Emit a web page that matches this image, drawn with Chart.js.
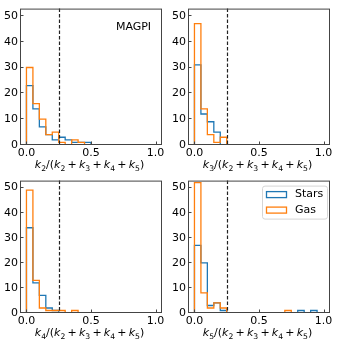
<!DOCTYPE html>
<html>
<head>
<meta charset="utf-8">
<script src="https://cdn.jsdelivr.net/npm/chart.js@4.4.0/dist/chart.umd.min.js"></script>
<style>
  html, body { margin: 0; padding: 0; background: #fff; }
  #wrap { position: relative; width: 338px; height: 344px; overflow: hidden; }
  #wrap canvas { position: absolute; }
</style>
</head>
<body>
<div id="wrap">
  <canvas id="k2" width="168" height="172" style="left:0px;top:0px"></canvas>
  <canvas id="k3" width="170" height="172" style="left:168px;top:0px"></canvas>
  <canvas id="k4" width="168" height="172" style="left:0px;top:172px"></canvas>
  <canvas id="k5" width="170" height="172" style="left:168px;top:172px"></canvas>
</div>
<script>
// bin edges of the histograms (width 0.05)
const binEdges = [0, 0.05, 0.1, 0.15, 0.2, 0.25, 0.3, 0.35, 0.4, 0.45, 0.5,
                  0.55, 0.6, 0.65, 0.7, 0.75, 0.8, 0.85, 0.9, 0.95, 1.0];
const xTicks = [0, 0.5, 1.0];
const yTicks = [0, 10, 20, 30, 40, 50];
const cutLine = 0.25;

// counts per bin
const starsK2 = [23, 14, 7, 4, 2, 3, 2, 1, 1, 1, 0, 0, 0, 0, 0, 0, 0, 0, 0, 0];
const gasK2   = [30, 16, 10, 4, 5, 1, 0, 2, 1, 0, 0, 0, 0, 0, 0, 0, 0, 0, 0, 0];
const starsK3 = [31, 12, 9, 5, 0, 0, 0, 0, 0, 0, 0, 0, 0, 0, 0, 0, 0, 0, 0, 0];
const gasK3   = [47, 14, 4, 1, 3, 0, 0, 0, 0, 0, 0, 0, 0, 0, 0, 0, 0, 0, 0, 0];
const starsK4 = [34, 12, 7, 2, 1, 0, 0, 0, 0, 0, 0, 0, 0, 0, 0, 0, 0, 0, 0, 0];
const gasK4   = [49, 13, 2, 1, 1, 1, 0, 1, 0, 0, 0, 0, 0, 0, 0, 0, 0, 0, 0, 0];
const starsK5 = [27, 20, 3, 4, 1, 0, 0, 0, 0, 0, 0, 0, 0, 0, 0, 0, 1, 0, 1, 0];
const gasK5   = [52, 8, 2, 4, 2, 0, 0, 0, 0, 0, 0, 0, 0, 0, 1, 0, 0, 0, 0, 0];

const seriesNames = ['Stars', 'Gas'];
const starsColor = '#1f77b4';
const gasColor = '#ff7f0e';
const FONT = 'DejaVu Sans';

// step outline like matplotlib histtype='step'
function stepPoints(counts) {
  const pts = [{ x: binEdges[0], y: 0 }];
  counts.forEach((c, i) => {
    pts.push({ x: binEdges[i], y: c });
    pts.push({ x: binEdges[i + 1], y: c });
  });
  pts.push({ x: binEdges[binEdges.length - 1], y: 0 });
  return pts;
}

// draws k_n/(k_2 + k_3 + k_4 + k_5) with italic k and subscripts
function drawMathLabel(ctx, n, cx, baseline) {
  const size = 11;
  const segs = [['k', 'i'], [String(n), 's'], ['/(', 'n'],
    ['k', 'i'], ['2', 's'], ['+', 'op'], ['k', 'i'], ['3', 's'], ['+', 'op'],
    ['k', 'i'], ['4', 's'], ['+', 'op'], ['k', 'i'], ['5', 's'], [')', 'n']];
  const fontFor = t => t === 'i' ? `italic ${size}px "${FONT}"`
    : t === 's' ? `${size * 0.7}px "${FONT}"` : `${size}px "${FONT}"`;
  const gap = 2.2;
  let total = 0;
  const widths = segs.map(([txt, t]) => {
    ctx.font = fontFor(t);
    const w = ctx.measureText(txt).width + (t === 'op' ? 2 * gap : 0);
    total += w;
    return w;
  });
  let x = cx - total / 2;
  ctx.fillStyle = '#000';
  ctx.textAlign = 'left';
  ctx.textBaseline = 'alphabetic';
  segs.forEach(([txt, t], i) => {
    ctx.font = fontFor(t);
    const dx = t === 'op' ? gap : 0;
    const dy = t === 's' ? 2.2 : 0;
    ctx.fillText(txt, x + dx, baseline + dy);
    x += widths[i];
  });
}

const decor = {
  id: 'decor',
  afterDatasetsDraw(chart, args, opts) {
    const { ctx, chartArea: a, scales: { x, y } } = chart;
    ctx.save();

    // dashed cut line
    const xc = Math.round(x.getPixelForValue(cutLine)) + 0.5;
    ctx.strokeStyle = '#222';
    ctx.lineWidth = 1.2;
    ctx.setLineDash([3.5, 2]);
    ctx.beginPath();
    ctx.moveTo(xc, a.top);
    ctx.lineTo(xc, a.bottom);
    ctx.stroke();
    ctx.setLineDash([]);

    // frame
    ctx.strokeStyle = '#444';
    ctx.lineWidth = 1;
    ctx.strokeRect(a.left + 0.5, a.top + 0.5, a.right - a.left - 1, a.bottom - a.top - 1);

    // inward ticks
    ctx.beginPath();
    xTicks.forEach(v => {
      const px = Math.round(x.getPixelForValue(v)) + 0.5;
      ctx.moveTo(px, a.bottom);
      ctx.lineTo(px, a.bottom - 3.5);
    });
    yTicks.forEach(v => {
      const py = Math.round(y.getPixelForValue(v)) - 0.5;
      ctx.moveTo(a.left, py);
      ctx.lineTo(a.left + 3.5, py);
    });
    ctx.stroke();

    // axis label
    drawMathLabel(ctx, opts.n, (a.left + a.right) / 2 - 1.5, a.bottom + 23.4);

    if (opts.tag) {
      ctx.font = `11px "${FONT}"`;
      ctx.fillStyle = '#000';
      ctx.textAlign = 'center';
      ctx.textBaseline = 'middle';
      ctx.fillText(opts.tag, a.left + 113.5, a.top + 18.5);
    }

    if (opts.legend) {
      const fx = a.right - 68, fy = a.top + 5, fw = 65, fh = 33;
      ctx.fillStyle = 'rgba(255,255,255,0.8)';
      ctx.strokeStyle = '#d5d5d5';
      ctx.lineWidth = 1;
      ctx.beginPath();
      ctx.roundRect(fx + 0.5, fy + 0.5, fw, fh, 2.5);
      ctx.fill();
      ctx.stroke();
      [starsColor, gasColor].forEach((c, i) => {
        const cy = fy + 9 + i * 15.5;
        ctx.strokeStyle = c;
        ctx.lineWidth = 1.3;
        ctx.strokeRect(fx + 4.5, cy - 3, 20, 6);
        ctx.fillStyle = '#000';
        ctx.font = `11px "${FONT}"`;
        ctx.textAlign = 'left';
        ctx.textBaseline = 'middle';
        ctx.fillText(seriesNames[i], fx + 33, cy);
      });
    }
    ctx.restore();
  }
};

function makeChart(id, n, stars, gas, pad, extra) {
  new Chart(document.getElementById(id), {
    type: 'line',
    data: {
      datasets: [
        { label: seriesNames[0], data: stepPoints(stars), borderColor: starsColor, order: 0 },
        { label: seriesNames[1], data: stepPoints(gas), borderColor: gasColor, order: -1 }
      ]
    },
    options: {
      responsive: false,
      animation: false,
      events: [],
      elements: {
        point: { radius: 0 },
        line: { borderWidth: 1.3, tension: 0, fill: false, borderCapStyle: 'butt', borderJoinStyle: 'miter' }
      },
      layout: { padding: { top: pad.top, right: pad.right, left: 0, bottom: 0 } },
      plugins: {
        legend: { display: false },
        tooltip: { enabled: false },
        decor: Object.assign({ n: n }, extra)
      },
      scales: {
        x: {
          type: 'linear', min: -0.05, max: 1.05,
          grid: { display: false, drawTicks: false },
          border: { display: false },
          afterBuildTicks: s => { s.ticks = xTicks.map(v => ({ value: v })); },
          afterFit: s => { s.height = pad.xh; },
          ticks: {
            color: '#000', padding: 2, maxRotation: 0, autoSkip: false,
            font: { family: FONT, size: 11 },
            callback: v => Number(v).toFixed(1)
          }
        },
        y: {
          type: 'linear', min: 0, max: 52.8,
          grid: { display: false, drawTicks: false },
          border: { display: false },
          afterBuildTicks: s => { s.ticks = yTicks.map(v => ({ value: v })); },
          afterFit: s => { s.width = 20; },
          ticks: {
            color: '#000', padding: 2, autoSkip: false,
            font: { family: FONT, size: 11 },
            callback: v => String(v)
          }
        }
      }
    },
    plugins: [decor]
  });
}

makeChart('k2', 2, starsK2, gasK2, { top: 5, right: 6, xh: 27 }, { tag: 'MAGPI' });
makeChart('k3', 3, starsK3, gasK3, { top: 5, right: 8, xh: 27 }, {});
makeChart('k4', 4, starsK4, gasK4, { top: 1, right: 6, xh: 31 }, {});
makeChart('k5', 5, starsK5, gasK5, { top: 1, right: 8, xh: 31 }, { legend: true });
</script>
</body>
</html>
